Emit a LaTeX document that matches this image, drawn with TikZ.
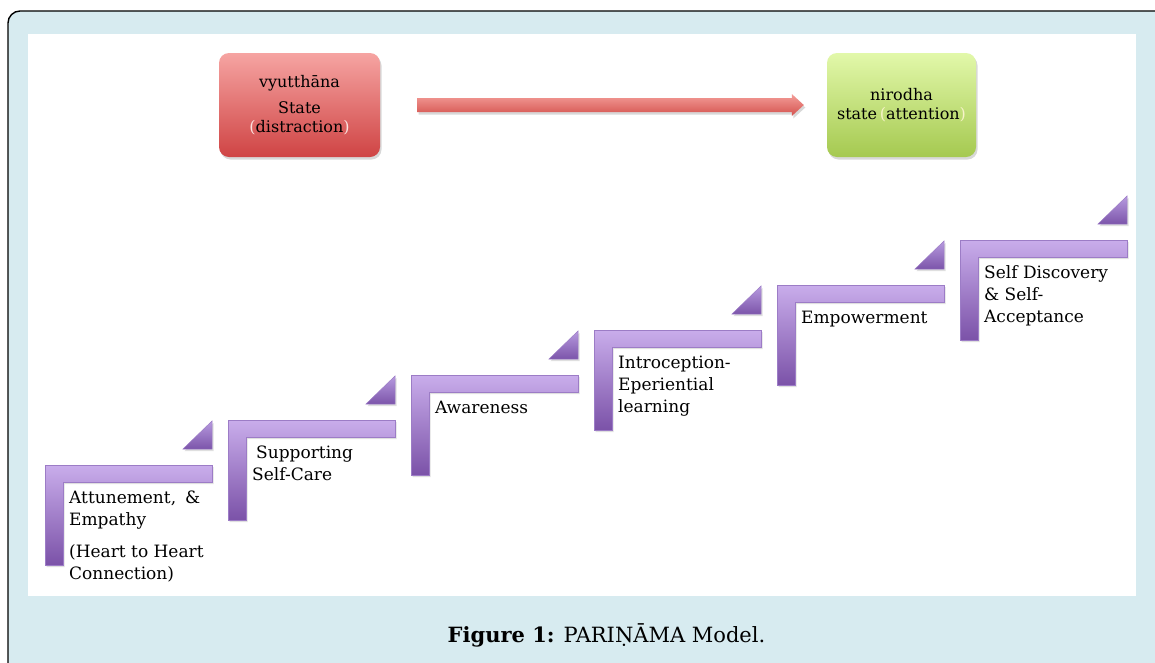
\documentclass[tikz,border=0pt]{standalone}
\usepackage{fontspec}
\setmainfont{DejaVu Serif}
\usetikzlibrary{shadows,calc}
\definecolor{bgblue}{HTML}{D7EBF0}
\definecolor{redtop}{HTML}{F6A4A2}
\definecolor{redbot}{HTML}{CF4444}
\definecolor{grntop}{HTML}{E2F8AA}
\definecolor{grnbot}{HTML}{A5C950}
\definecolor{arrtop}{HTML}{F49E99}
\definecolor{arrbot}{HTML}{D4524E}
\definecolor{purtop}{HTML}{C9ADEB}
\definecolor{purbot}{HTML}{7B52A8}
\definecolor{purline}{HTML}{9C7CC6}
\definecolor{trtop}{HTML}{B79ADF}
\definecolor{trbot}{HTML}{7C55AA}
\definecolor{parred}{HTML}{FBE3E0}
\definecolor{pargrn}{HTML}{F7F3C8}
\newcommand\mystep[3]{%
  \path[stepshape] (#1,#2) -- ++(167,0) -- ++(0,17) -- ++(-149,0) -- ++(0,83) -- ++(-18,0) -- cycle;
  \path[trishape] (#1+138,#2-16) -- (#1+167,#2-16) -- (#1+167,#2-44) -- cycle;
  \node[steptext] (#3) at (#1+24,#2+38)}
\begin{document}
\begin{tikzpicture}[x=1pt,y=-1pt,
  stepshape/.style={top color=purtop, bottom color=purbot, draw=purline, line width=0.6pt,
    drop shadow={shadow xshift=1.5pt, shadow yshift=-2pt, opacity=0.25}},
  trishape/.style={top color=trtop, bottom color=trbot, draw=purline, line width=0.5pt,
    drop shadow={shadow xshift=1.5pt, shadow yshift=-2pt, opacity=0.25}},
  steptext/.style={anchor=base west, inner sep=0pt, font=\fontsize{17}{22}\selectfont, text=black},
  statebox/.style={rounded corners=10pt, minimum width=161pt, minimum height=104pt, inner sep=0pt,
    align=center, font=\fontsize{16}{19}\selectfont,
    drop shadow={shadow xshift=1.5pt, shadow yshift=-2.5pt, opacity=0.3}},
  arrowshape/.style={top color=arrtop, bottom color=arrbot,
    drop shadow={shadow xshift=1.5pt, shadow yshift=-2.5pt, opacity=0.3}}]
\useasboundingbox (0,0) rectangle (1155,662);
\begin{scope}
  \clip (0,0) rectangle (1155,662);
  \draw[fill=bgblue, line width=1.4pt, rounded corners=12pt] (8,11) rectangle (1190,720);
\end{scope}
\fill[white] (28,34) rectangle (1136,596);

% top boxes
\node[statebox, top color=redtop, bottom color=redbot] (red) at (299.5,105)
  {vyutthāna\\[7pt] State\\ \textcolor{parred}{(}distraction\textcolor{parred}{)}};
\node[statebox, minimum width=149pt, top color=grntop, bottom color=grnbot] (green) at (901.5,105)
  {nirodha\\ state\,\textcolor{pargrn}{(}attention\textcolor{pargrn}{)}};
\coordinate (a0) at ($(red.east)+(37,0)$);
\coordinate (a1) at ($(green.west)+(-23,0)$);
\path[arrowshape] ($(a0)+(0,-7)$) -- ($(a1)+(-12,-7)$) -- ($(a1)+(-12,-11)$) -- (a1)
  -- ($(a1)+(-12,11)$) -- ($(a1)+(-12,7)$) -- ($(a0)+(0,7)$) -- cycle;

% steps
\mystep{45}{465}{s1} {\begin{tabular}[t]{@{}l@{}}Attunement,\hspace{9pt}\&\\ Empathy\\[10pt] (Heart to Heart\\ Connection)\end{tabular}};
\mystep{228}{420}{s2} {\begin{tabular}[t]{@{}l@{}}\hspace{4pt}Supporting\\ Self-Care\end{tabular}};
\mystep{411}{375}{s3} {Awareness};
\mystep{594}{330}{s4} {\begin{tabular}[t]{@{}l@{}}Introception-\\ Eperiential\\ learning\end{tabular}};
\mystep{777}{285}{s5} {Empowerment};
\mystep{960}{240}{s6} {\begin{tabular}[t]{@{}l@{}}Self Discovery\\ \& Self-\\ Acceptance\end{tabular}};

% caption
\node[font=\fontsize{21}{24}\selectfont] (cap) at (606.5,635) {\textbf{Figure 1:} PARIṆĀMA Model.};
\end{tikzpicture}
\end{document}
